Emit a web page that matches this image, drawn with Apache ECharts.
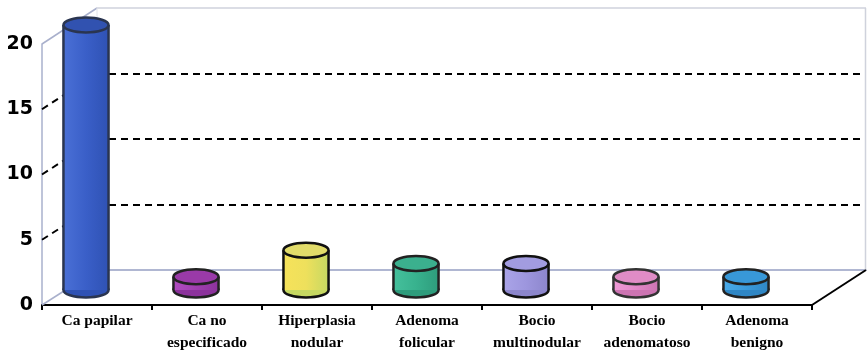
<!DOCTYPE html>
<html>
<head>
<meta charset="utf-8">
<script src="https://cdn.jsdelivr.net/npm/echarts@6/dist/echarts.min.js"></script>
<style>
html,body{margin:0;padding:0;background:#fff;}
#c{width:867px;height:358px;}
</style>
</head>
<body>
<div id="c"></div>
<script>
// ---- data ----
const categories = ['Ca papilar', 'Ca no\nespecificado', 'Hiperplasia\nnodular', 'Adenoma\nfolicular', 'Bocio\nmultinodular', 'Bocio\nadenomatoso', 'Adenoma\nbenigno'];
const values = [20, 1, 3, 2, 2, 1, 1];
const yMin = 0, yMax = 20, yStep = 5;

// ---- styling ----
const palette = [
  {l:'#4a70d6', m:'#3a5fc8', r:'#2f52b4', top:'#3152b0', stroke:'#2a3550'},
  {l:'#b04cc0', m:'#a03fb0', r:'#8c329c', top:'#9a3aa8', stroke:'#222'},
  {l:'#f6e25a', m:'#eee05c', r:'#c6d862', top:'#e2dc6a', stroke:'#111'},
  {l:'#45c09c', m:'#38b28e', r:'#2e9c7c', top:'#3bb08e', stroke:'#222'},
  {l:'#aaa4e8', m:'#9d96de', r:'#8c86cc', top:'#a29ce0', stroke:'#111'},
  {l:'#ee9ad6', m:'#e288c8', r:'#cc74b2', top:'#e08cc6', stroke:'#333'},
  {l:'#4aaae8', m:'#3a9bdc', r:'#2f86c4', top:'#3898d8', stroke:'#222'}
];
const FRONT = {left: 42, right: 55, top: 44, bottom: 53};
const BACK = {left: 97, right: 1, top: 8, bottom: 88};
const CYL = {left: 31, right: 66, top: 25, bottom: 68};

const chart = echarts.init(document.getElementById('c'), null, {renderer: 'canvas'});

function renderItem(params, api) {
  const idx = api.value(0), v = api.value(1);
  const top = api.coord([idx, v]);
  const base = api.coord([idx, 0]);
  const bw = api.size([1, 0])[0];
  const rx = bw * 0.205, ry = 7.5;
  const c = palette[idx];
  const grad = new echarts.graphic.LinearGradient(0, 0, 1, 0, [
    {offset: 0, color: c.l}, {offset: 0.5, color: c.m}, {offset: 1, color: c.r}
  ]);
  const sw = 2.5;
  return {
    type: 'group',
    children: [
      {type: 'ellipse', shape: {cx: base[0], cy: base[1], rx: rx, ry: ry}, style: {fill: c.r, stroke: c.stroke, lineWidth: sw}},
      {type: 'rect', shape: {x: base[0] - rx, y: top[1], width: 2 * rx, height: base[1] - top[1]}, style: {fill: grad}},
      {type: 'line', shape: {x1: base[0] - rx, y1: top[1], x2: base[0] - rx, y2: base[1]}, style: {stroke: c.stroke, lineWidth: sw}},
      {type: 'line', shape: {x1: base[0] + rx, y1: top[1], x2: base[0] + rx, y2: base[1]}, style: {stroke: c.stroke, lineWidth: sw}},
      {type: 'ellipse', shape: {cx: top[0], cy: top[1], rx: rx, ry: ry}, style: {fill: c.top, stroke: c.stroke, lineWidth: sw}}
    ]
  };
}

const option = {
  backgroundColor: '#ffffff',
  animation: false,
  grid: [
    Object.assign({containLabel: false}, FRONT),
    Object.assign({containLabel: false}, BACK),
    Object.assign({containLabel: false}, CYL)
  ],
  xAxis: [
    {
      gridIndex: 0, type: 'category', data: categories, boundaryGap: true,
      axisLine: {show: true, lineStyle: {color: '#000', width: 2}},
      axisTick: {show: true, length: 5, lineStyle: {color: '#000', width: 2}},
      axisLabel: {color: '#000', fontFamily: 'Liberation Serif', fontWeight: 'bold', fontSize: 15.5, lineHeight: 22, margin: 5, interval: 0},
      splitLine: {show: false}
    },
    {
      gridIndex: 1, type: 'category', data: categories, boundaryGap: true,
      axisLine: {show: true, lineStyle: {color: '#97a0c4', width: 1.5}},
      axisTick: {show: false}, axisLabel: {show: false}, splitLine: {show: false}
    },
    {
      gridIndex: 2, type: 'category', data: categories, boundaryGap: true, show: false
    }
  ],
  yAxis: [
    {
      gridIndex: 0, type: 'value', min: yMin, max: yMax, interval: yStep,
      axisLine: {show: true, lineStyle: {color: '#a9b0cc', width: 1.5}},
      axisTick: {show: false},
      axisLabel: {color: '#000', fontFamily: 'DejaVu Sans', fontWeight: 'bold', fontSize: 19, margin: 9},
      splitLine: {show: false}
    },
    {
      gridIndex: 1, type: 'value', min: yMin, max: yMax, interval: yStep,
      axisLine: {show: false}, axisTick: {show: false}, axisLabel: {show: false},
      splitLine: {show: true, showMinLine: false, showMaxLine: false, lineStyle: {color: '#000', width: 2, type: [7, 5]}}
    },
    {
      gridIndex: 2, type: 'value', min: yMin, max: yMax, show: false
    }
  ],
  series: [
    {
      type: 'custom', xAxisIndex: 2, yAxisIndex: 2, z: 10,
      renderItem: renderItem,
      encode: {x: 0, y: 1},
      data: values.map((v, i) => [i, v])
    }
  ]
};
chart.setOption(option);

// 3D walls: connect the front axis with the back wall via the library's scales
const W = 867, H = 358;
const fy = v => chart.convertToPixel({yAxisIndex: 0}, v);
const by = v => chart.convertToPixel({yAxisIndex: 1}, v);
const fL = FRONT.left, fR = W - FRONT.right, bL = BACK.left, bR = W - BACK.right;
const g = [];
for (let v = yMin; v <= yMax; v += yStep) {
  const isEdge = (v === yMin || v === yMax);
  g.push({
    type: 'line', z: 1,
    shape: {x1: fL, y1: fy(v), x2: bL, y2: by(v)},
    style: isEdge ? {stroke: '#a9b0cc', lineWidth: 1.5} : {stroke: '#000', lineWidth: 2, lineDash: [7, 5]}
  });
}
g.push({type: 'line', z: 1, shape: {x1: bL, y1: by(yMax), x2: bR, y2: by(yMax)}, style: {stroke: '#cfd2dc', lineWidth: 1.5}});
g.push({type: 'line', z: 1, shape: {x1: bR - 0.5, y1: by(yMax), x2: bR - 0.5, y2: by(yMin)}, style: {stroke: '#cfd2dc', lineWidth: 1.5}});
g.push({type: 'line', z: 1, shape: {x1: bL, y1: by(yMax), x2: bL, y2: by(yMin)}, style: {stroke: '#e2e4ea', lineWidth: 1}});
g.push({type: 'line', z: 1, shape: {x1: fR, y1: fy(yMin), x2: bR, y2: by(yMin)}, style: {stroke: '#000', lineWidth: 2}});
chart.setOption({graphic: g});
</script>
</body>
</html>
